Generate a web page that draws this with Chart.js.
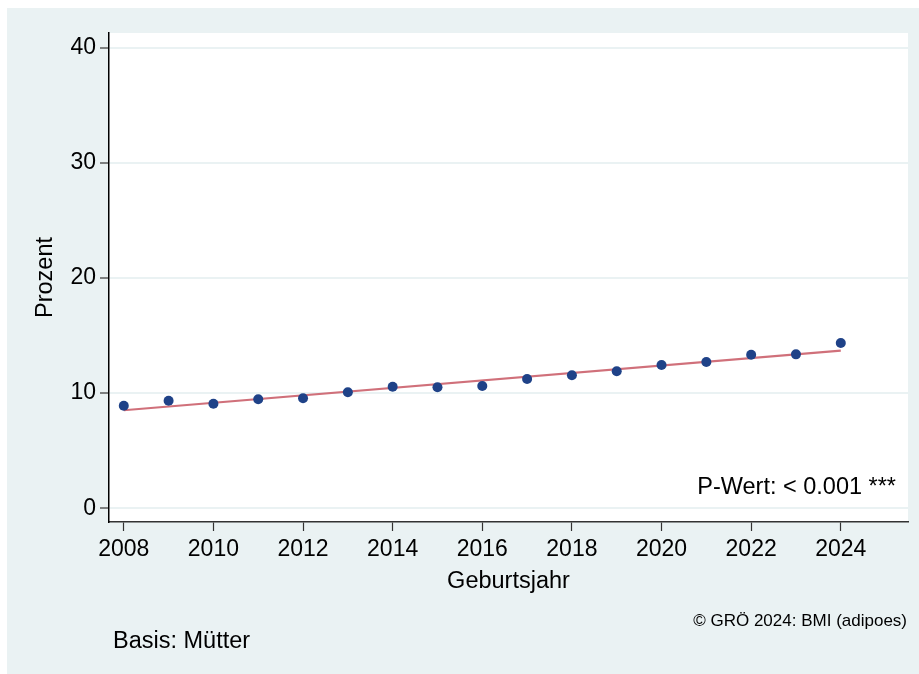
<!DOCTYPE html>
<html lang="de">
<head>
<meta charset="utf-8">
<title>Prozent nach Geburtsjahr</title>
<script src="https://cdn.jsdelivr.net/npm/chart.js@4.4.1/dist/chart.umd.min.js"></script>
<style>
  html, body { margin: 0; padding: 0; background: #ffffff; }
  #wrap { width: 919px; height: 674px; position: relative; }
</style>
</head>
<body>
<div id="wrap"><canvas id="chart"></canvas></div>
<script>
// Data
const years = [2008, 2009, 2010, 2011, 2012, 2013, 2014, 2015, 2016, 2017, 2018, 2019, 2020, 2021, 2022, 2023, 2024];
const values = [8.91, 9.34, 9.08, 9.47, 9.55, 10.07, 10.56, 10.51, 10.62, 11.23, 11.55, 11.90, 12.44, 12.71, 13.34, 13.37, 14.36];
const fitYears = [2008, 2024];
const fitValues = [8.51, 13.69];
const xTicks = [2008, 2010, 2012, 2014, 2016, 2018, 2020, 2022, 2024];
const yTicks = [0, 10, 20, 30, 40];

const FONT = "'Liberation Sans', Arial, sans-serif";
const BG = "#EAF2F3";

/* ---------- background + notes ---------- */
const stataLook = {
  id: "stataLook",
  beforeDraw(chart) {
    const { ctx, chartArea: a } = chart;
    ctx.save();
    ctx.fillStyle = "#ffffff";
    ctx.fillRect(0, 0, chart.width, chart.height);
    ctx.fillStyle = BG;
    ctx.fillRect(7, 8, chart.width - 7, chart.height - 8);
    ctx.fillStyle = "#ffffff";
    ctx.fillRect(a.left, a.top, a.right - a.left, a.bottom - a.top);
    ctx.restore();
  },
  afterDraw(chart) {
    const { ctx, chartArea: a } = chart;
    ctx.save();
    ctx.fillStyle = "#000000";
    ctx.textBaseline = "alphabetic";
    ctx.font = "23.5px " + FONT;
    ctx.textAlign = "right";
    ctx.fillText("P-Wert: < 0.001 ***", a.right - 12, 494);
    ctx.font = "17px " + FONT;
    ctx.fillText("\u00A9 GR\u00D6 2024: BMI (adipoes)", 907, 626);
    ctx.font = "23.5px " + FONT;
    ctx.textAlign = "left";
    ctx.fillText("Basis: M\u00FCtter", 113, 648);
    ctx.restore();
  }
};

const pts = years.map((y, i) => ({ x: y, y: values[i] }));
const fit = fitYears.map((y, i) => ({ x: y, y: fitValues[i] }));

new Chart(document.getElementById("chart"), {
  type: "scatter",
  data: {
    datasets: [
      {
        label: "Fit",
        type: "line",
        data: fit,
        borderColor: "#D0707A",
        borderWidth: 2.2,
        pointRadius: 0,
        fill: false,
        order: 2
      },
      {
        label: "Prozent",
        data: pts,
        backgroundColor: "#1F4288",
        borderWidth: 0,
        pointRadius: 5,
        order: 1
      }
    ]
  },
  options: {
    responsive: true,
    maintainAspectRatio: false,
    animation: false,
    layout: { padding: { left: 0, top: 33, right: 11, bottom: 0 } },
    plugins: { legend: { display: false }, tooltip: { enabled: false } },
    scales: {
      x: {
        type: "linear",
        min: 2007.67,
        max: 2025.5,
        afterFit: s => { s.height = 152; },
        afterBuildTicks: s => { s.ticks = xTicks.map(v => ({ value: v })); },
        grid: { drawOnChartArea: false, tickLength: 9, tickColor: "#333333", tickWidth: 1.2 },
        border: { color: "#333333", width: 1.5 },
        ticks: {
          padding: 5,
          maxRotation: 0,
          color: "#000000",
          font: { family: FONT, size: 23 },
          callback: v => String(v)
        },
        title: {
          display: true,
          text: "Geburtsjahr",
          color: "#000000",
          font: { family: FONT, size: 23.5 },
          padding: { top: 0, bottom: 78.7 }
        }
      },
      y: {
        min: -1.2,
        max: 41.3,
        afterFit: s => { s.width = 109; },
        afterBuildTicks: s => { s.ticks = yTicks.map(v => ({ value: v })); },
        grid: { color: BG, lineWidth: 2, tickLength: 9, tickColor: "#333333", tickWidth: 1.2 },
        border: { color: "#000000", width: 1.5 },
        ticks: {
          padding: 4,
          color: "#000000",
          font: { family: FONT, size: 23 },
          callback: v => String(v)
        },
        title: {
          display: true,
          text: "Prozent",
          color: "#000000",
          font: { family: FONT, size: 23.5 },
          padding: { top: 31, bottom: 0 }
        }
      }
    }
  },
  plugins: [stataLook]
});
</script>
</body>
</html>
